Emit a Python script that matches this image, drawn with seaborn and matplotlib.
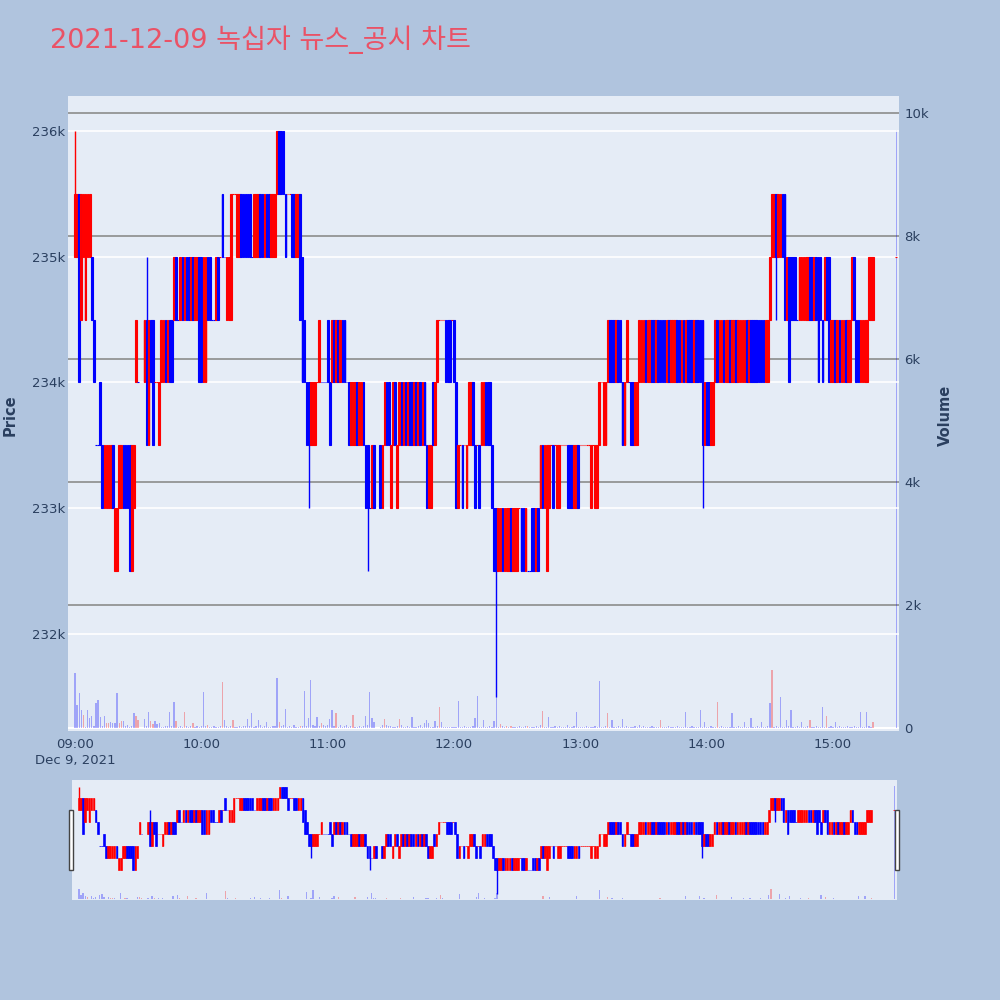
import matplotlib
matplotlib.use('agg')
import matplotlib.pyplot as plt
from matplotlib.patches import Rectangle
import pandas as pd
import seaborn as sns

TITLE = '2021-12-09 녹십자 뉴스_공시 차트'

# one candle per minute after 09:00, price level digit: 0 = 231,500 ... 9 = 236,000 (500 won steps)
# '.' = no trade in that minute; 15:20-15:30 is the closing auction
OPEN_LV = ("7786767776 4454333342 2334444235 5..5646655 4556566676 6767767667 7557766677 8766688778 "
           "8888777788 7887778999 8888877876 5544455555 6556565665 5444544544 334..43455 3453454545 "
           "5454545433 5456666666 6534443445 4444455543 3223222322 2333222332 3343234443 3444444334 "
           "4444434334 5445666566 5455554455 5655665666 6565556656 5666566664 5544565565 5655655556 "
           "5666666655 6778778867 7776666667 7677766775 5656556556 7665555666")
CLOSE_LV = ("8858888865 4443444433 3443332446 5..6465455 5665655766 7676676775 5776666767 7777888887 "
            "7777788877 8778889888 7887788655 4455556555 5465656555 4555455433 343..34544 4544545454 "
            "4545454344 4566665556 5344344554 3435544432 2332333233 3322322223 2434444344 4444333443 "
            "4444444445 5556555655 4565445566 6566556555 5656665565 6555655545 4455656656 6566566665 "
            "6555555566 7887887675 6666777776 6765657656 6565665667 6556666777")
HIGH_FIX = {0: 9, 34: 7}
LOW_FIX = {111: 3, 139: 2, 200: 0, 298: 3, 333: 6}

VOLUME = [
    890, 374, 564, 293, 211, 22, 293, 157, 195, 40,
    412, 455, 173, 33, 195, 87, 87, 98, 76, 76,
    575, 76, 119, 108, 30, 43, 20, 25, 249, 195,
    130, 0, 0, 152, 30, 265, 119, 65, 108, 65,
    87, 11, 20, 30, 25, 260, 40, 423, 108, 20,
    33, 20, 265, 25, 15, 33, 87, 20, 33, 15,
    30, 590, 25, 43, 20, 22, 30, 15, 20, 35,
    753, 130, 33, 20, 25, 130, 15, 20, 33, 15,
    25, 40, 152, 30, 249, 20, 25, 130, 43, 15,
    30, 98, 20, 15, 25, 40, 818, 98, 30, 50,
    303, 20, 33, 15, 54, 20, 22, 33, 40, 607,
    30, 163, 780, 45, 30, 173, 40, 76, 54, 33,
    43, 152, 293, 30, 238, 20, 43, 15, 25, 43,
    20, 30, 217, 15, 20, 25, 15, 30, 195, 54,
    590, 163, 98, 0, 0, 20, 54, 152, 54, 33,
    33, 20, 15, 25, 141, 43, 20, 15, 30, 20,
    173, 15, 20, 25, 43, 15, 87, 130, 76, 20,
    15, 108, 25, 347, 98, 20, 11, 15, 20, 15,
    20, 15, 444, 20, 15, 25, 15, 20, 15, 25,
    170, 520, 20, 15, 130, 20, 15, 25, 20, 110,
    537, 20, 60, 25, 20, 40, 15, 40, 20, 15,
    20, 40, 15, 20, 25, 40, 15, 20, 15, 40,
    20, 50, 282, 20, 15, 180, 20, 15, 25, 15,
    40, 20, 15, 20, 55, 15, 20, 25, 265, 20,
    15, 20, 15, 25, 20, 15, 20, 25, 15, 770,
    20, 15, 25, 250, 20, 130, 15, 20, 25, 15,
    150, 20, 25, 15, 20, 15, 25, 20, 50, 15,
    40, 20, 15, 20, 25, 15, 20, 15, 130, 20,
    15, 20, 25, 15, 20, 15, 25, 20, 15, 20,
    260, 15, 20, 25, 15, 20, 15, 290, 20, 100,
    20, 15, 25, 20, 15, 420, 20, 25, 15, 20,
    15, 20, 240, 15, 20, 25, 15, 20, 100, 15,
    20, 160, 15, 20, 25, 15, 100, 20, 15, 25,
    400, 940, 20, 25, 15, 500, 20, 15, 130, 25,
    290, 20, 15, 25, 20, 100, 15, 20, 25, 130,
    20, 15, 25, 20, 15, 340, 20, 200, 15, 25,
    20, 100, 15, 25, 20, 15, 20, 25, 15, 20,
    25, 15, 20, 260, 15, 20, 260, 25, 15, 100,
]
# minutes whose volume bar is drawn red (all others blue)
VOL_RED = [4, 15, 16, 21, 22, 29, 30, 36, 37, 48, 52, 56, 63, 70, 75, 97, 107, 117, 124, 132,
           147, 154, 173, 202, 205, 207, 215, 222, 253, 278, 305, 331, 349, 357, 379]
AUCTION_MINUTE = 390
AUCTION_LV = 7
AUCTION_VOLUME = 9720

X_TICKS = [0, 60, 120, 180, 240, 300, 360]
X_LABELS = ['09:00\nDec 9, 2021', '10:00', '11:00', '12:00', '13:00', '14:00', '15:00']
PRICE_TICKS = [232000, 233000, 234000, 235000, 236000]
VOL_TICKS = [0, 2000, 4000, 6000, 8000, 10000]

BG = '#B0C4DE'
PLOT_BG = '#E5ECF6'
TXT = '#2a3f5f'
LINE = {'up': '#FF0000', 'down': '#0000FF'}
FILL = {'up': (1, 0, 0, 0.5), 'down': (0, 0, 1, 0.5)}


def lv_price(lv):
    return 231500 + 500 * lv


opens = OPEN_LV.replace(' ', '')
closes = CLOSE_LV.replace(' ', '')
rows = []
for m, (o, c) in enumerate(zip(opens, closes)):
    if o == '.':
        continue
    hi = HIGH_FIX.get(m, max(int(o), int(c)))
    lo = LOW_FIX.get(m, min(int(o), int(c)))
    rows.append((m, int(o), int(c), hi, lo, VOLUME[m]))
rows.append((AUCTION_MINUTE, AUCTION_LV, AUCTION_LV, AUCTION_LV, AUCTION_LV, AUCTION_VOLUME))
df = pd.DataFrame(rows, columns=['minute', 'o', 'c', 'h', 'l', 'volume'])
for col in ['o', 'c', 'h', 'l']:
    df[col] = lv_price(df[col])

# plotly rule: equal open/close takes direction from previous close
dirs = []
inc = True
prev = None
for o, c in zip(df['o'], df['c']):
    if c > o:
        inc = True
    elif c < o:
        inc = False
    elif prev is not None and c != prev:
        inc = c > prev
    dirs.append('up' if inc else 'down')
    prev = c
df['dir'] = dirs
df['vdir'] = ['up' if m in VOL_RED else 'down' for m in df['minute']]
df['body_lo'] = df[['o', 'c']].min(axis=1)
df['body_h'] = (df['o'] - df['c']).abs()

sns.set_theme(style='white')
plt.rcParams['font.family'] = ['DejaVu Sans', 'Noto Sans CJK KR']

fig = plt.figure(figsize=(10, 10), dpi=100, facecolor=BG)

XLIM = (-3.3, 391.3)
PRICE_LIM = (231229, 236278)
VOL_LIM = (-49, 10276)


def draw_panel(ax_vol, ax_p, edge_lw):
    ax_vol.set_facecolor(PLOT_BG)
    sns.histplot(data=df, x='minute', weights='volume', hue='vdir', palette=LINE,
                 discrete=True, shrink=0.6, alpha=0.3, linewidth=0, legend=False,
                 multiple='layer', ax=ax_vol)
    colors = df['dir'].map(LINE)
    faces = df['dir'].map(FILL)
    ax_p.vlines(df['minute'], df['l'], df['h'], colors=colors, linewidth=1.0, zorder=3)
    ax_p.bar(df['minute'], df['body_h'], bottom=df['body_lo'], width=0.8,
             color=list(faces), edgecolor=list(colors), linewidth=edge_lw, zorder=3)
    for a in (ax_vol, ax_p):
        a.set_xlim(*XLIM)
        a.set_xlabel('')
        a.set_ylabel('')
        for s in a.spines.values():
            s.set_visible(False)
    ax_vol.set_ylim(*VOL_LIM)
    ax_p.set_ylim(*PRICE_LIM)


# main chart
ax_vol = fig.add_axes([0.068, 0.269, 0.831, 0.635])
ax_p = ax_vol.twinx()
draw_panel(ax_vol, ax_p, 0.8)

for v in VOL_TICKS[1:]:
    ax_vol.axhline(v, color='#8c8c8c', linewidth=1.2, zorder=0)
ax_vol.axhline(0, color='white', linewidth=1.5, zorder=0)
ax_p.set_axisbelow(True)
ax_p.yaxis.grid(True, color='white', linewidth=1.2)
ax_p.xaxis.grid(False)
ax_vol.xaxis.grid(False)
ax_vol.yaxis.grid(False)

ax_vol.yaxis.tick_right()
ax_vol.set_yticks(VOL_TICKS)
ax_vol.set_yticklabels(['0', '2k', '4k', '6k', '8k', '10k'])
ax_p.yaxis.tick_left()
ax_p.set_yticks(PRICE_TICKS)
ax_p.set_yticklabels([f'{p // 1000}k' for p in PRICE_TICKS])
ax_vol.set_xticks(X_TICKS)
ax_vol.set_xticklabels(X_LABELS, linespacing=1.3)
ax_p.tick_params(axis='y', length=0, pad=2, labelsize=9.5, labelcolor=TXT)
ax_vol.tick_params(axis='y', length=0, pad=4, labelsize=9.5, labelcolor=TXT)
ax_vol.tick_params(axis='x', length=0, pad=5, labelsize=9.5, labelcolor=TXT)
ax_p.tick_params(axis='x', bottom=False, labelbottom=False)

# range slider
ax_s = fig.add_axes([0.072, 0.100, 0.825, 0.120])
ax_sp = ax_s.twinx()
draw_panel(ax_s, ax_sp, 0.5)
for a in (ax_s, ax_sp):
    a.set_xticks([])
    a.set_yticks([])
    a.grid(False)

for hx in (0.069, 0.895):
    fig.patches.append(Rectangle((hx, 0.130), 0.004, 0.060, transform=fig.transFigure,
                                 facecolor='white', edgecolor='#444444', linewidth=1.0))

fig.text(0.050, 0.960, TITLE, ha='left', va='center', fontsize=19.5, color='#EA5266')
fig.text(0.010, 0.585, 'Price', rotation=90, ha='center', va='center',
         fontsize=10.5, fontweight='bold', color=TXT)
fig.text(0.945, 0.585, 'Volume', rotation=90, ha='center', va='center',
         fontsize=10.5, fontweight='bold', color=TXT)

fig.savefig('out.png', dpi=100, facecolor=BG)
